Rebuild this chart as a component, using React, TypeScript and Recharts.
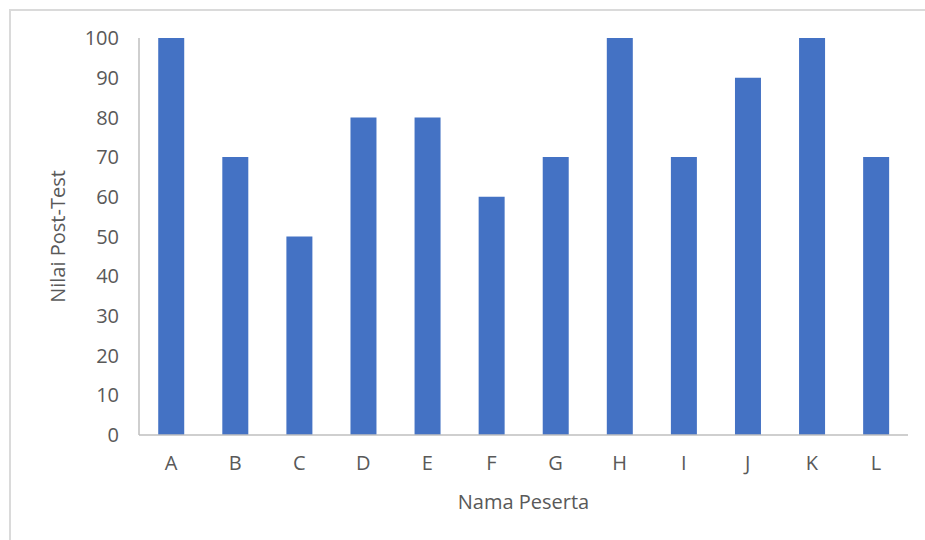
import React from "react";
import { BarChart, Bar, XAxis, YAxis } from "recharts";

const peserta = ["A", "B", "C", "D", "E", "F", "G", "H", "I", "J", "K", "L"];
const nilaiPostTest = [100, 70, 50, 80, 80, 60, 70, 100, 70, 90, 100, 70];
const yTicks = [0, 10, 20, 30, 40, 50, 60, 70, 80, 90, 100];

const data = peserta.map((nama, i) => ({ nama, nilai: nilaiPostTest[i] }));

const FONT = "'Open Sans', 'DejaVu Sans', sans-serif";
const TEXT = "#595959";
const AXIS = "#bfbfbf";

export default function App() {
  return (
    <div
      style={{
        position: "absolute",
        left: 0,
        top: 0,
        width: 925,
        height: 540,
        background: "#fff",
        fontFamily: FONT,
      }}
    >
      {/* chart frame */}
      <div
        style={{
          position: "absolute",
          left: 9,
          top: 9,
          width: 925 - 9,
          height: 540 - 9,
          borderTop: "2px solid #dadada",
          borderLeft: "2px solid #dadada",
          boxSizing: "border-box",
        }}
      />
      <div style={{ position: "absolute", left: 0, top: 0 }}>
        <BarChart
          width={925}
          height={540}
          data={data}
          barCategoryGap="30%"
          margin={{ top: 38, right: 17, left: 0, bottom: 0 }}
        >
          <XAxis
            dataKey="nama"
            height={105}
            axisLine={{ stroke: AXIS, strokeWidth: 1.5 }}
            tickLine={false}
            tickMargin={15}
            tick={{ fill: TEXT, fontSize: 20, fontFamily: FONT }}
            interval={0}
            label={{
              value: "Nama Peserta",
              position: "center",
              dy: 14,
              fill: TEXT,
              fontSize: 20,
              fontFamily: FONT,
            }}
          />
          <YAxis
            width={139}
            domain={[0, 100]}
            ticks={yTicks}
            interval={0}
            axisLine={{ stroke: AXIS, strokeWidth: 1.5 }}
            tickLine={false}
            tickMargin={14}
            tick={{ fill: TEXT, fontSize: 20, fontFamily: FONT }}
            label={{
              value: "Nilai Post-Test",
              angle: -90,
              position: "center",
              dx: -12,
              fill: TEXT,
              fontSize: 20,
              fontFamily: FONT,
            }}
          />
          <Bar dataKey="nilai" fill="#4472c4" isAnimationActive={false} />
        </BarChart>
      </div>
    </div>
  );
}
